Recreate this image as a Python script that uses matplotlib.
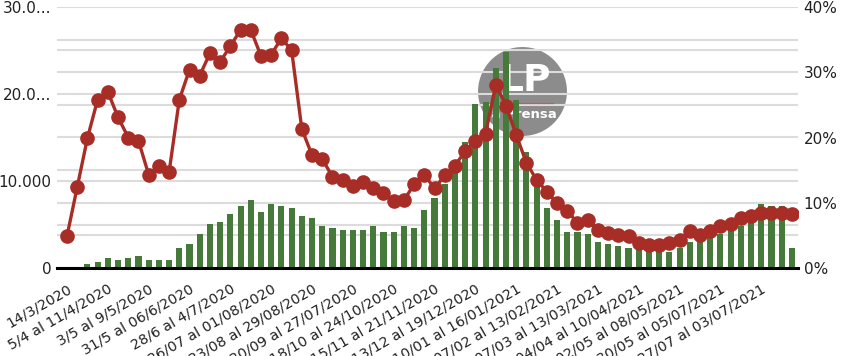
import matplotlib
matplotlib.use("Agg")
import matplotlib.pyplot as plt
import numpy as np
from matplotlib.ticker import FuncFormatter

plt.rcParams['font.family'] = ['DejaVu Sans']

# ---- data ----
cases = [0, 100, 460, 690, 1150, 920, 1150, 1380, 920, 920, 920, 2300, 2760, 3900,
         5060, 5290, 6200, 7130, 7820, 6440, 7360, 7130, 6900, 5980, 5750, 4830,
         4600, 4370, 4370, 4370, 4830, 4140, 4140, 4830, 4600, 6670, 8050, 9660,
         11030, 14480, 18850, 19080, 22990, 24830, 19310, 13330, 9350, 6900, 5520,
         4140, 4140, 3910, 2990, 2760, 2530, 2300, 2150, 2070, 1840, 1840, 2300,
         2990, 2990, 3450, 3910, 4370, 4830, 5290, 7360, 7150, 7100, 2300]
positivity = [4.9, 12.4, 19.9, 25.8, 27.0, 23.1, 20.0, 19.5, 14.3, 15.6, 14.7, 25.8,
              30.4, 29.5, 32.9, 31.6, 34.0, 36.5, 36.5, 32.5, 32.7, 35.2, 33.4, 21.3,
              17.3, 16.7, 14.0, 13.5, 12.5, 13.2, 12.2, 11.5, 10.2, 10.4, 12.8, 14.3,
              12.2, 14.2, 15.7, 17.9, 19.4, 20.6, 28.1, 24.9, 20.4, 16.1, 13.5, 11.7,
              9.9, 8.8, 6.9, 7.3, 5.9, 5.3, 5.0, 4.9, 3.8, 3.6, 3.6, 3.8, 4.3, 5.6,
              5.1, 5.7, 6.4, 6.8, 7.6, 8.0, 8.5, 8.4, 8.5, 8.2]
tick_labels = ["14/3/2020", "5/4 al 11/4/2020", "3/5 al 9/5/2020", "31/5 al 06/6/2020",
               "28/6 al 4/7/2020", "26/07 al 01/08/2020", "23/08 al 29/08/2020",
               "20/09 al 27/07/2020", "18/10 al 24/10/2020", "15/11 al 21/11/2020",
               "13/12 al 19/12/2020", "10/01 al 16/01/2021", "07/02 al 13/02/2021",
               "07/03 al 13/03/2021", "04/04 al 10/04/2021", "02/05 al 08/05/2021",
               "30/05 al 05/07/2021", "27/07 al 03/07/2021"]
left_labels = {0: "0", 10000: "10.000", 20000: "20.0...", 30000: "30.0..."}
right_labels = [0, 10, 20, 30, 40]

GREEN = "#457a3b"
RED = "#a72d26"
GRID = "#dcdcdc"
TXT = "#222222"

x = np.arange(len(cases))

fig = plt.figure(figsize=(8.42, 3.56), dpi=100)
ax = fig.add_axes([57/842, 1-268/356, (798-57)/842, (268-7)/356])
ax2 = ax.twinx()

# watermark logo (behind gridlines)
ax.scatter([0.628], [0.68], s=4100, color="#8c8c8c", transform=ax.transAxes,
           zorder=0.5, linewidths=0, clip_on=False)
ax.text(0.632, 0.715, "LP", transform=ax.transAxes, color="white", fontsize=27,
        fontweight="bold", ha="center", va="center", zorder=0.6)
ax.plot([0.611, 0.669], [0.633, 0.633], transform=ax.transAxes, color="#c85a55",
        linewidth=0.9, zorder=0.6)
ax.text(0.625, 0.59, "La Prensa", transform=ax.transAxes, color="white", fontsize=9.5,
        fontweight="bold", ha="center", va="center", zorder=0.6)

ax.bar(x, cases, width=0.6, color=GREEN, zorder=2)
ax.set_ylim(0, 30000)
ax.set_xlim(-0.98, 71.6)
ax.set_yticks(np.arange(0, 30001, 5000))
ax.set_yticks(np.arange(0, 30001, 3750), minor=True)
ax.yaxis.set_major_formatter(FuncFormatter(lambda v, p: left_labels.get(int(round(v)), "")))
ax.grid(axis="y", which="both", color=GRID, linewidth=1.5, zorder=1)
ax.set_axisbelow(True)
ax.tick_params(axis="y", which="both", length=0, labelsize=11, pad=4, labelcolor=TXT)
for s in ["top", "right", "left"]:
    ax.spines[s].set_visible(False)
ax.spines["bottom"].set_linewidth(2.2)
ax.spines["bottom"].set_color("black")
ax.spines["bottom"].set_zorder(5)

ax.set_xticks(x[::4])
ax.set_xticklabels(tick_labels, rotation=30, ha="right", va="top",
                   rotation_mode="anchor", fontsize=10.3, color=TXT)
ax.tick_params(axis="x", length=0, pad=10)

ax2.plot(x, positivity, color=RED, linewidth=2.4, marker="o", markersize=9.5,
         zorder=3)
ax2.set_ylim(0, 40)
ax2.set_yticks(right_labels)
ax2.set_yticklabels([f"{v}%" for v in right_labels])
ax2.tick_params(axis="y", length=0, labelsize=11, pad=4, labelcolor=TXT)
for s in ["top", "right", "left", "bottom"]:
    ax2.spines[s].set_visible(False)

fig.savefig("out.png", dpi=100)
